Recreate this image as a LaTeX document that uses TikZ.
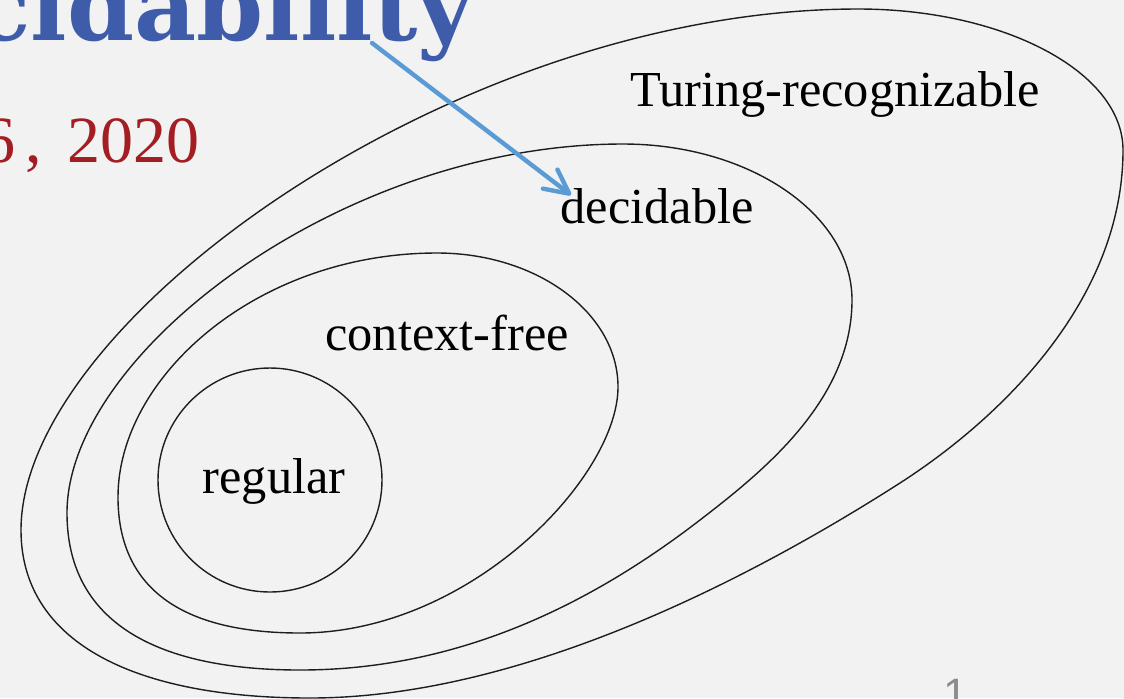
\documentclass[tikz,border=0pt]{standalone}
\usepackage{fontspec}
\setmainfont{Liberation Serif}
\newfontfamily\titlefont{DejaVu Serif}
\newfontfamily\numfont{Liberation Sans}
\usetikzlibrary{arrows.meta}
\definecolor{bgcol}{HTML}{F2F2F2}
\definecolor{titleblue}{HTML}{3F5CAB}
\definecolor{datered}{HTML}{A31D22}
\definecolor{arrowblue}{HTML}{5B9BD5}
\definecolor{pgray}{HTML}{8C8C8C}
\definecolor{linecol}{HTML}{1E1E1E}
\begin{document}
\begin{tikzpicture}[x=0.5pt,y=-0.5pt,
  setline/.style={draw=linecol, line width=0.7pt},
  lbl/.style={inner sep=0pt, anchor=base, font=\fontsize{25.2}{28}\selectfont}]
\useasboundingbox (0,0) rectangle (1124,698);
\fill[bgcol] (0,0) rectangle (1124,698);
\clip (0,0) rectangle (1124,698);

% Turing-recognizable
\draw[setline] (21,530) .. controls (21,320) and (458,9) .. (858,9)
  .. controls (1004,9) and (1123,72) .. (1123,150)
  .. controls (1123,300) and (1001,418) .. (900,483)
  .. controls (731.6,590.8) and (510,698) .. (310,698)
  .. controls (130,698) and (21,640) .. (21,530) -- cycle;

% decidable
\draw[setline] (67,513) .. controls (67,353) and (343,144) .. (623,144)
  .. controls (749,144) and (852,214) .. (852,300)
  .. controls (852,400) and (763.4,471.2) .. (700,520)
  .. controls (581.2,611.5) and (450,670) .. (300,670)
  .. controls (150,670) and (67,618) .. (67,513) -- cycle;

% context-free
\draw[setline] (118,497) .. controls (118,377) and (257,253) .. (437,253)
  .. controls (537,253) and (618,313) .. (618,387)
  .. controls (618,477) and (470,633) .. (300,633)
  .. controls (180,633) and (118,587) .. (118,497) -- cycle;

% regular
\draw[setline] (270,480) circle[radius=56pt];

% labels
\node[lbl] (tr) at (835,106) {Turing-recognizable};
\node[lbl] (dec) at (657,223) {decidable};
\node[lbl] (cf) at (447,350) {context-free};
\node[lbl] (reg) at (274,493) {regular};

% title remnants
\node[anchor=base west, inner sep=0pt, text=titleblue,
      font=\titlefont\bfseries\fontsize{48}{50}\selectfont] (title) at (-28,40) {cidability};
\node[anchor=base east, inner sep=0pt, text=datered,
      font=\fontsize{33}{36}\selectfont] (date) at (200,162) {6\kern5pt,\kern13pt 2020};
\node[anchor=base west, inner sep=0pt, text=pgray,
      font=\numfont\fontsize{22}{24}\selectfont] (pg) at (943,709) {1};

% arrow
\coordinate (astart) at (372,43);
\coordinate (atip) at (571,195);
\draw[arrowblue, line width=2.2pt, line cap=round,
      -{Straight Barb[length=12pt,width=12pt,round]}] (astart) -- (atip);
\end{tikzpicture}
\end{document}
